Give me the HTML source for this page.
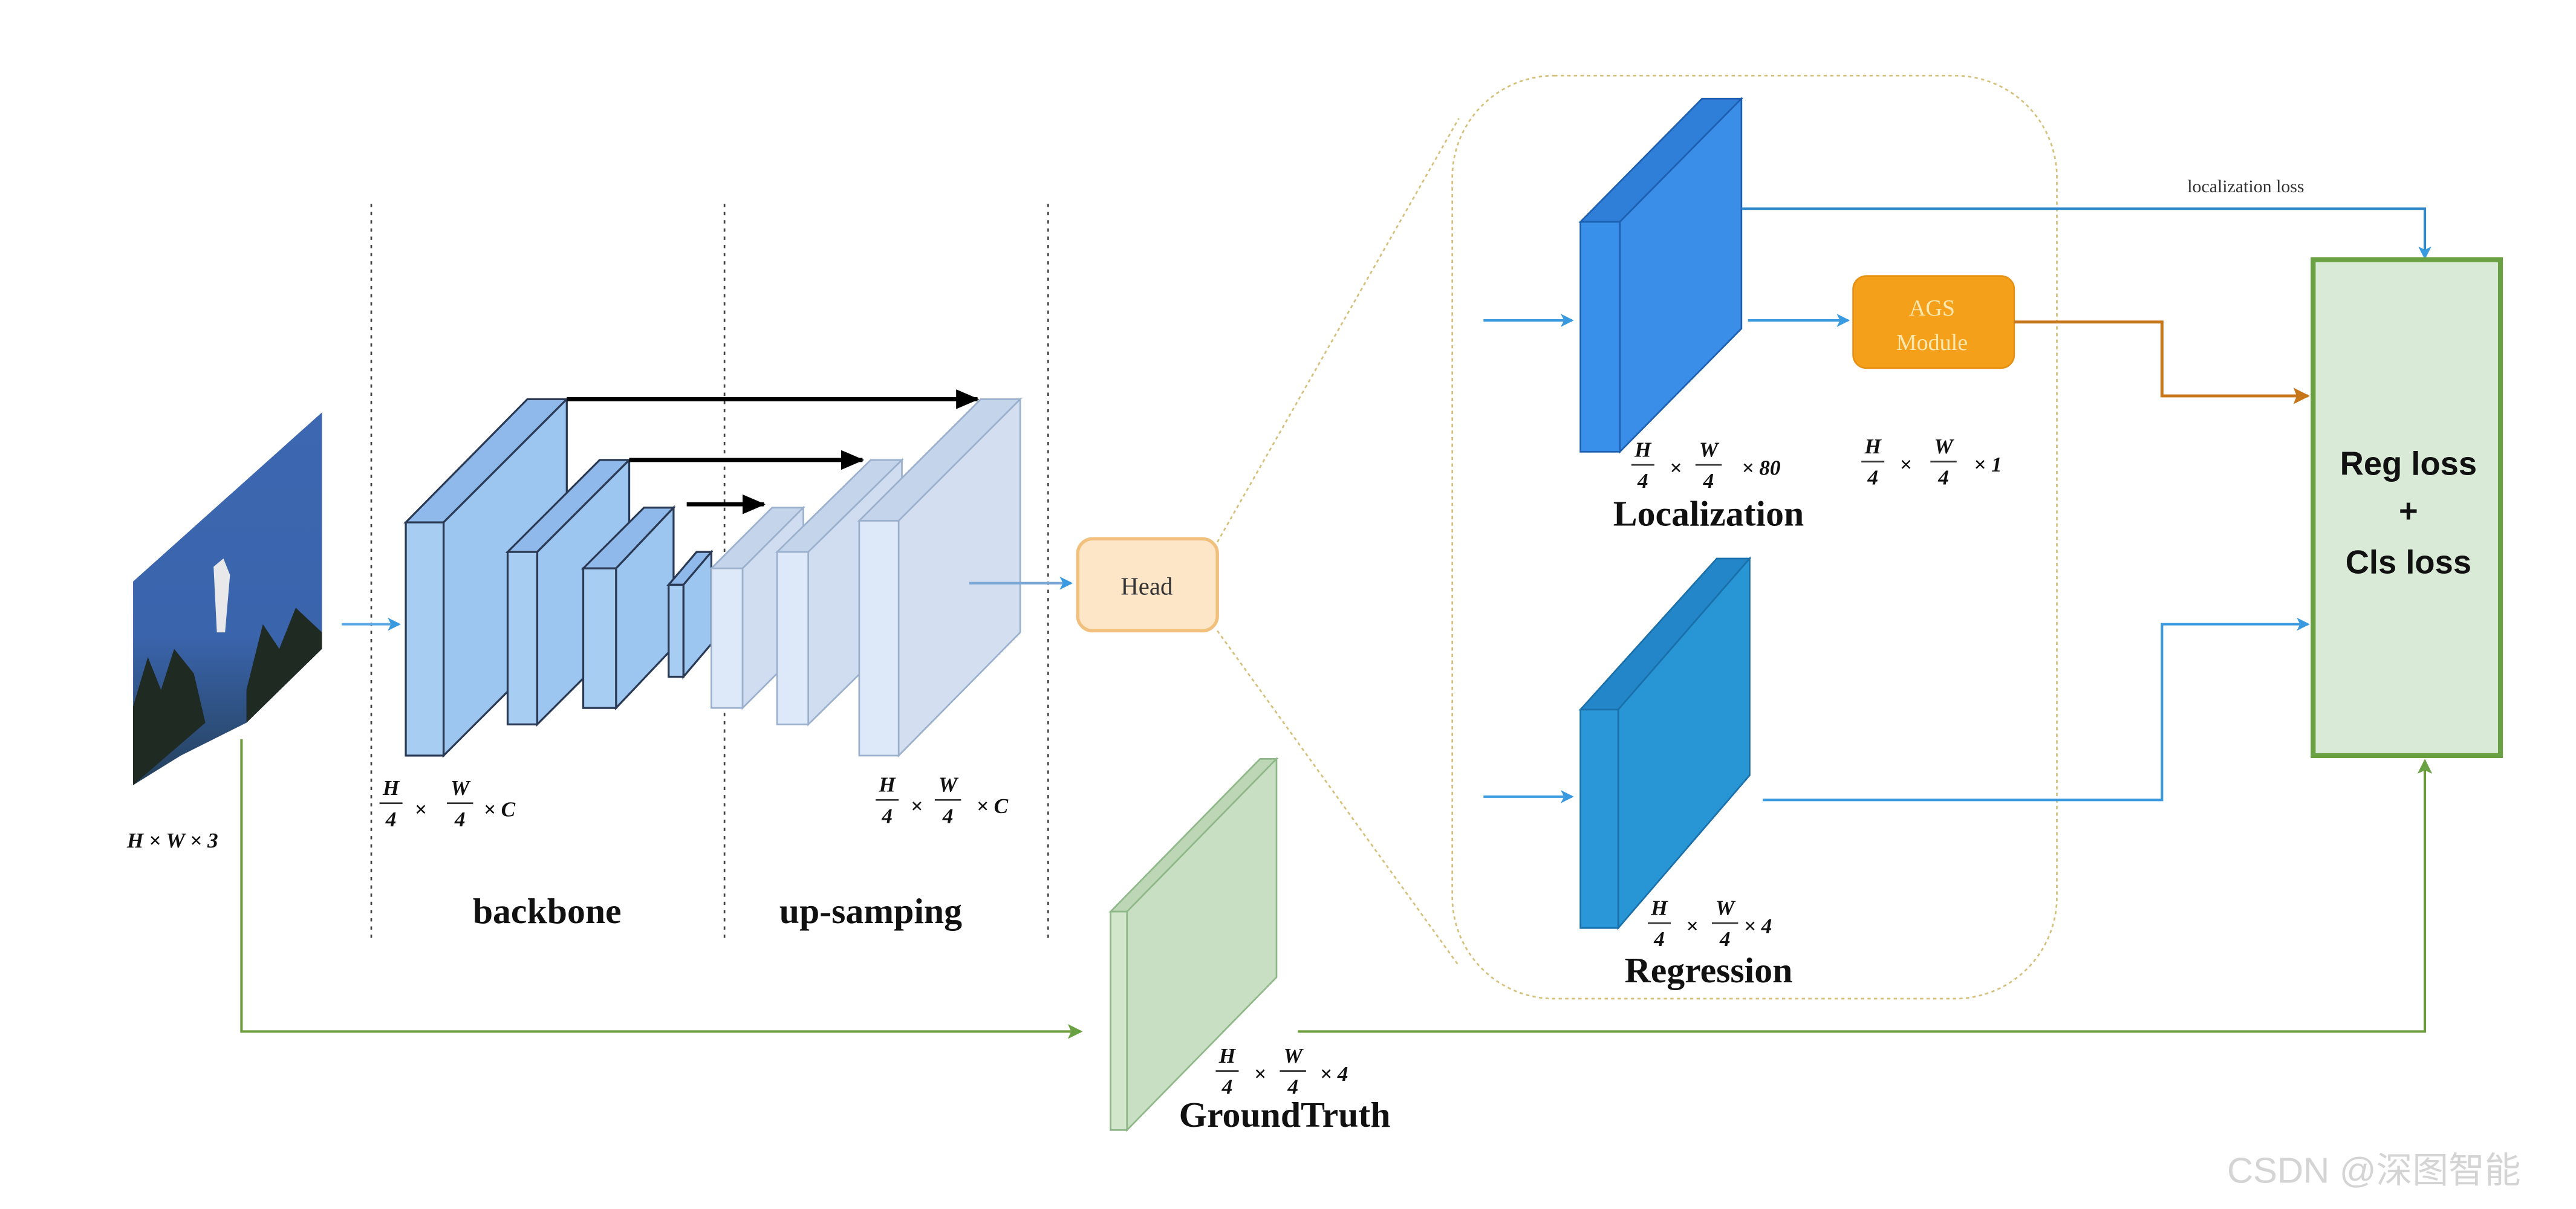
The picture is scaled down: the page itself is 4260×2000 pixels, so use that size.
<!DOCTYPE html>
<html><head><meta charset="utf-8"><style>
html,body{margin:0;padding:0;background:#fff;}
svg{display:block;}
</style></head><body>
<svg width="4260" height="2000" viewBox="0 0 1568 736" xmlns="http://www.w3.org/2000/svg" font-family="Liberation Serif, serif">
<defs>
<marker id="ab" markerWidth="8" markerHeight="8" refX="7" refY="4" orient="auto" markerUnits="userSpaceOnUse"><path d="M0,0 L8,4 L0,8 L2,4 Z" fill="#3a9ae0"/></marker>
<marker id="ak" markerWidth="14" markerHeight="12" refX="13" refY="6" orient="auto" markerUnits="userSpaceOnUse"><path d="M0,0 L14,6 L0,12 Z" fill="#000"/></marker>
<marker id="ao" markerWidth="10" markerHeight="10" refX="9" refY="5" orient="auto" markerUnits="userSpaceOnUse"><path d="M0,0 L10,5 L0,10 L2,5 Z" fill="#c8761a"/></marker>
<marker id="ag" markerWidth="9" markerHeight="9" refX="8" refY="4.5" orient="auto" markerUnits="userSpaceOnUse"><path d="M0,0 L9,4.5 L0,9 L2,4.5 Z" fill="#6aa142"/></marker>
<linearGradient id="sky" x1="0" y1="0" x2="0" y2="1"><stop offset="0" stop-color="#3d67b0"/><stop offset="0.6" stop-color="#3a64ac"/><stop offset="1" stop-color="#24405a"/></linearGradient>
</defs>

<g stroke="#444" stroke-width="1" stroke-dasharray="2,3">
<line x1="226" y1="124" x2="226" y2="572"/><line x1="441" y1="124" x2="441" y2="572"/><line x1="638" y1="124" x2="638" y2="572"/>
</g>

<polygon points="81,354 196,251 196,395 150,440 110,460 81,478" fill="url(#sky)"/>
<g fill="#1f2a22">
<path d="M81,430 L90,400 L98,420 L106,395 L118,410 L125,440 L81,478 Z"/>
<path d="M150,420 L160,380 L170,395 L180,370 L196,385 L196,395 L150,440 Z"/>
</g>
<path d="M130,345 L136,340 L140,350 L137,385 L132,385 Z" fill="#e8e8ea"/>

<line x1="208" y1="380" x2="243" y2="380" stroke="#5aa8e6" stroke-width="1.5" marker-end="url(#ab)"/>

<g stroke="#2a3a55" stroke-width="1.2">
<polygon points="247,318 321,243 345,243 270,318" fill="#8fb9ea"/>
<polygon points="270,318 345,243 345,385 270,460" fill="#9cc5f0"/>
<rect x="247" y="318" width="23" height="142" fill="#a7cdf3"/>
<polygon points="309,336 365,280 383,280 327,336" fill="#8fb9ea"/>
<polygon points="327,336 383,280 383,385 327,441" fill="#9cc5f0"/>
<rect x="309" y="336" width="18" height="105" fill="#a7cdf3"/>
<polygon points="355,346 392,309 410,309 375,346" fill="#8fb9ea"/>
<polygon points="375,346 410,309 410,394 375,431" fill="#9cc5f0"/>
<rect x="355" y="346" width="20" height="85" fill="#a7cdf3"/>
<polygon points="407,356 424,336 433,336 416,356" fill="#8fb9ea"/>
<polygon points="416,356 433,336 433,392 416,412" fill="#9cc5f0"/>
<rect x="407" y="356" width="9" height="56" fill="#a7cdf3"/>
</g>
<g stroke="#9ab0cc" stroke-width="1">
<polygon points="433,346 470,309 489,309 452,346" fill="#c4d4ea"/>
<polygon points="452,346 489,309 489,394 452,431" fill="#d0ddf0"/>
<rect x="433" y="346" width="19" height="85" fill="#dde8f8"/>
<polygon points="473,336 530,280 549,280 492,336" fill="#c4d4ea"/>
<polygon points="492,336 549,280 549,385 492,441" fill="#d0ddf0"/>
<rect x="473" y="336" width="19" height="105" fill="#dde8f8"/>
<polygon points="523,317 597,243 621,243 547,317" fill="#c4d4ea"/>
<polygon points="547,317 621,243 621,385 547,460" fill="#d3dff0"/>
<rect x="523" y="317" width="24" height="143" fill="#dde8f8"/>
</g>
<g stroke="#000" stroke-width="2.5" fill="none">
<line x1="345" y1="243" x2="595" y2="243" marker-end="url(#ak)"/>
<line x1="383" y1="280" x2="525" y2="280" marker-end="url(#ak)"/>
<line x1="418" y1="307" x2="465" y2="307" marker-end="url(#ak)"/>
</g>
<line x1="590" y1="355" x2="652" y2="355" stroke="#7aa6d6" stroke-width="1.5" marker-end="url(#ab)"/>

<g fill="#111" font-style="italic" font-weight="bold" font-size="13" text-anchor="middle">
<text x="105" y="516">H × W × 3</text>
<text x="238" y="484">H</text><line x1="231" y1="489" x2="245" y2="489" stroke="#333"/><text x="238" y="503">4</text>
<text x="256" y="497">×</text>
<text x="280" y="484">W</text><line x1="272" y1="489" x2="288" y2="489" stroke="#333"/><text x="280" y="503">4</text>
<text x="304" y="497">× C</text>
<text x="540" y="482">H</text><line x1="533" y1="487" x2="547" y2="487" stroke="#333"/><text x="540" y="501">4</text>
<text x="558" y="495">×</text>
<text x="577" y="482">W</text><line x1="569" y1="487" x2="585" y2="487" stroke="#333"/><text x="577" y="501">4</text>
<text x="604" y="495">× C</text>
</g>
<g font-weight="bold" font-size="22" fill="#111" text-anchor="middle">
<text x="333" y="562">backbone</text>
<text x="530" y="562">up-samping</text>
</g>

<rect x="656" y="328" width="85" height="56" rx="9" fill="#fde6c8" stroke="#f0c07c" stroke-width="2"/>
<text x="698" y="362" font-size="15" text-anchor="middle" fill="#333">Head</text>

<g stroke="#d4c07a" stroke-width="1" stroke-dasharray="2,2" fill="none">
<line x1="741" y1="330" x2="888" y2="72"/>
<line x1="741" y1="384" x2="888" y2="588"/>
<rect x="884" y="46" width="368" height="562" rx="62"/>
</g>

<polygon points="962,135 1036,60 1060,60 986,135" fill="#2f7fd8" stroke="#1d5fb0"/>
<polygon points="986,135 1060,60 1060,200 986,275" fill="#3a8ee8" stroke="#1d5fb0"/>
<rect x="962" y="135" width="24" height="140" fill="#3890ea" stroke="#1d5fb0"/>
<polygon points="962,432 1045,340 1065,340 985,432" fill="#2386c8" stroke="#1a70aa"/>
<polygon points="985,432 1065,340 1065,472 985,565" fill="#2895d4" stroke="#1a70aa"/>
<rect x="962" y="432" width="23" height="133" fill="#2a98d8" stroke="#1a70aa"/>

<g stroke="#3a9ae0" stroke-width="1.5" fill="none">
<line x1="903" y1="195" x2="957" y2="195" marker-end="url(#ab)"/>
<line x1="903" y1="485" x2="957" y2="485" marker-end="url(#ab)"/>
<line x1="1064" y1="195" x2="1125" y2="195" marker-end="url(#ab)"/>
<polyline points="1060,127 1476,127 1476,157" stroke="#2f86c8" marker-end="url(#ab)"/>
<polyline points="1073,487 1316,487 1316,380 1405,380" marker-end="url(#ab)"/>
</g>
<text x="1367" y="117" font-size="11" text-anchor="middle" fill="#333">localization loss</text>

<rect x="1128" y="168" width="98" height="56" rx="8" fill="#f5a01a" stroke="#e89010"/>
<text x="1176" y="192" font-size="14" text-anchor="middle" fill="#fbe8b0">AGS</text>
<text x="1176" y="213" font-size="14" text-anchor="middle" fill="#fbe8b0">Module</text>
<polyline points="1226,196 1316,196 1316,241 1405,241" stroke="#c8761a" stroke-width="1.8" fill="none" marker-end="url(#ao)"/>

<rect x="1408" y="158" width="114" height="302" fill="#d9ead6" stroke="#6aa142" stroke-width="3"/>
<g font-family="Liberation Sans, sans-serif" font-weight="bold" font-size="20" text-anchor="middle" fill="#111">
<text x="1466" y="289">Reg loss</text>
<text x="1466" y="318">+</text>
<text x="1466" y="349">Cls loss</text>
</g>

<g fill="#111" font-style="italic" font-weight="bold" font-size="13" text-anchor="middle">
<text x="1000" y="278">H</text><line x1="993" y1="283" x2="1007" y2="283" stroke="#333"/><text x="1000" y="297">4</text>
<text x="1020" y="289">×</text>
<text x="1040" y="278">W</text><line x1="1032" y1="283" x2="1048" y2="283" stroke="#333"/><text x="1040" y="297">4</text>
<text x="1072" y="289">× 80</text>
<text x="1140" y="276">H</text><line x1="1133" y1="281" x2="1147" y2="281" stroke="#333"/><text x="1140" y="295">4</text>
<text x="1160" y="287">×</text>
<text x="1183" y="276">W</text><line x1="1175" y1="281" x2="1191" y2="281" stroke="#333"/><text x="1183" y="295">4</text>
<text x="1210" y="287">× 1</text>
<text x="1010" y="557">H</text><line x1="1003" y1="562" x2="1017" y2="562" stroke="#333"/><text x="1010" y="576">4</text>
<text x="1030" y="568">×</text>
<text x="1050" y="557">W</text><line x1="1042" y1="562" x2="1058" y2="562" stroke="#333"/><text x="1050" y="576">4</text>
<text x="1070" y="568">× 4</text>
<text x="747" y="647">H</text><line x1="740" y1="652" x2="754" y2="652" stroke="#333"/><text x="747" y="666">4</text>
<text x="767" y="658">×</text>
<text x="787" y="647">W</text><line x1="779" y1="652" x2="795" y2="652" stroke="#333"/><text x="787" y="666">4</text>
<text x="812" y="658">× 4</text>
</g>
<g font-weight="bold" font-size="22" fill="#111" text-anchor="middle">
<text x="1040" y="320">Localization</text>
<text x="1040" y="598">Regression</text>
<text x="782" y="686">GroundTruth</text>
</g>

<g stroke="#8fb888" stroke-width="1">
<polygon points="676,555 767,462 777,462 686,555" fill="#bcd6b6"/>
<polygon points="686,555 777,462 777,595 686,688" fill="#c9dfc3"/>
<rect x="676" y="555" width="10" height="133" fill="#d2e6cc"/>
</g>
<g stroke="#6a9a3a" stroke-width="1.5" fill="none">
<polyline points="147,450 147,628 658,628" marker-end="url(#ag)"/>
<polyline points="790,628 1476,628 1476,463" marker-end="url(#ag)"/>
</g>

<text x="1445" y="720" font-family="Liberation Sans, 'Noto Sans CJK SC', sans-serif" font-size="22" fill="#d4d4d4" text-anchor="middle">CSDN @深图智能</text>
</svg>
</body></html>
